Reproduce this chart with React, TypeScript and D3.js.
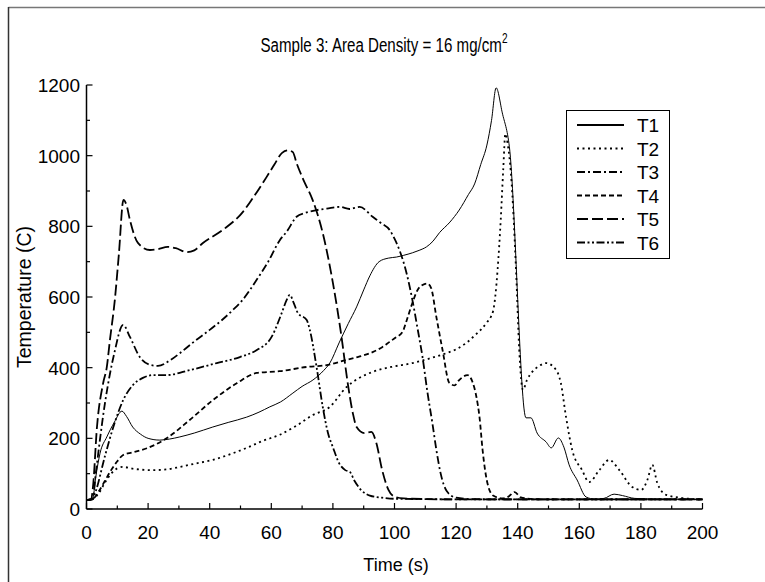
import React, { useEffect, useRef } from "react";
import * as d3 from "d3";

// time (s) / temperature (C)
const t1Time = [0, 2, 3, 4.4, 6.6, 9, 11.5, 13, 15, 17.5, 20, 23.8, 27, 30.3, 35, 41, 46, 52, 56, 59.5, 63, 67, 70, 73.5, 77, 79, 82, 85, 87.7, 90, 92, 95, 98, 100.6, 103, 105.8, 108, 110.4, 112.5, 114.6, 118, 121, 124, 126, 128, 130, 131.5, 133, 135, 137.3, 142.7, 144.3, 146.3, 149.2, 150.9, 153.2, 155, 156.7, 159.3, 162.2, 165, 168, 171.3, 174, 178, 185, 200];
const t1Temp = [25, 28, 90, 158, 204, 245, 277, 262, 232, 212, 200, 195, 198, 204, 215, 232, 245, 260, 274, 289, 303, 328, 347, 365, 392, 413, 470, 525, 572, 620, 660, 700, 710, 713, 718, 725, 732, 742, 758, 782, 812, 846, 890, 920, 975, 1030, 1100, 1192, 1121, 1025, 258, 258, 215, 190, 173, 201, 175, 125, 82, 34, 28, 30, 42, 38, 30, 28, 27];

const t2Time = [0, 2, 4, 6, 8, 10, 11.9, 15, 21.6, 26, 30.3, 35, 41, 46, 52, 57, 62.7, 68, 73.5, 79, 84.4, 88, 92.9, 99, 105.8, 111, 116.8, 120, 123.3, 126.5, 129.8, 132, 133.5, 134.5, 135.3, 136, 136.8, 137.8, 139.5, 140.5, 141.7, 143, 144.7, 147, 149.2, 152.5, 154, 155.7, 157.7, 160.9, 163.2, 166.5, 169.7, 173, 177.2, 180.1, 182.1, 183.7, 185.3, 188.2, 193.4, 200];
const t2Temp = [25, 28, 45, 75, 100, 115, 119, 114, 110, 112, 119, 128, 139, 153, 173, 192, 210, 235, 266, 289, 345, 368, 388, 402, 413, 425, 441, 452, 470, 495, 526, 560, 680, 820, 960, 1062, 1030, 950, 668, 450, 337, 365, 388, 405, 413, 393, 357, 260, 167, 110, 76, 110, 139, 110, 62, 54, 82, 125, 74, 40, 31, 27];

const t3Time = [0, 2, 3, 6, 9, 11.9, 14.1, 17.3, 20.6, 23.2, 27, 30.3, 35, 40, 44, 47.5, 50.7, 55.2, 59, 62.7, 65, 68.2, 71, 74.7, 78, 82.2, 85.4, 88.7, 92.9, 95.5, 98.4, 100, 101.6, 103.9, 105.8, 107.5, 109.1, 110.7, 112.3, 113.6, 115, 117, 120, 125, 140, 160, 180, 200];
const t3Temp = [25, 28, 100, 300, 440, 521, 487, 430, 408, 405, 420, 441, 474, 507, 535, 563, 592, 648, 700, 760, 785, 827, 838, 846, 850, 855, 849, 855, 827, 810, 790, 765, 733, 668, 592, 510, 430, 330, 243, 167, 100, 50, 32, 28, 27, 27, 27, 27];

const t4Time = [0, 2, 4, 6, 8, 10, 11.9, 15, 19.6, 26, 33.5, 41, 48.8, 55.3, 62.7, 71.5, 78.4, 84.4, 88, 92.9, 96, 98.4, 100.5, 102.6, 104, 105.8, 107.5, 109.1, 110.6, 111.9, 113.6, 115.6, 117.8, 119.5, 121, 123.7, 125.3, 126.6, 127.6, 128.6, 130, 132, 135, 137, 139, 141, 145, 150, 160, 180, 200];
const t4Temp = [25, 28, 50, 80, 110, 135, 153, 160, 172, 200, 252, 308, 356, 385, 390, 402, 408, 422, 430, 444, 458, 473, 486, 501, 535, 583, 620, 634, 638, 625, 543, 450, 357, 350, 365, 379, 360, 317, 260, 167, 80, 38, 30, 35, 48, 33, 28, 27, 27, 27, 27];

const t5Time = [0, 1.5, 2.1, 3.4, 5.4, 6.6, 7.6, 9.2, 10.5, 12, 13, 14.1, 16.7, 20.6, 23, 26.4, 29, 32.5, 35, 37.8, 44.3, 50.8, 54, 58.5, 61, 63.5, 65.5, 67, 68.2, 70.5, 73.4, 76.7, 80, 82.8, 84.8, 86.5, 87.7, 90.2, 92.5, 94.1, 96, 98, 100, 103, 110, 120, 140, 160, 180, 200];
const t5Temp = [25, 28, 62, 232, 356, 402, 478, 592, 720, 875, 860, 818, 753, 733, 735, 742, 738, 727, 732, 753, 790, 841, 880, 940, 975, 1008, 1015, 1010, 979, 930, 875, 781, 640, 487, 357, 270, 232, 215, 218, 187, 110, 55, 35, 30, 28, 27, 27, 27, 27, 27];

const t6Time = [0, 2, 3, 6, 9, 11.9, 15.1, 18.3, 21.6, 26, 33.5, 42.3, 49.8, 55.3, 60.1, 63.4, 65, 66, 67.2, 68.6, 71.5, 72.5, 74.7, 76.7, 78.4, 80, 82, 84, 85.5, 87, 89, 92, 96, 100, 110, 130, 160, 200];
const t6Temp = [25, 28, 50, 150, 240, 308, 351, 371, 379, 379, 393, 413, 430, 450, 487, 555, 592, 606, 585, 555, 535, 507, 402, 289, 215, 175, 130, 110, 105, 80, 55, 38, 32, 29, 28, 27, 27, 27];

const seriesNames = ["T1", "T2", "T3", "T4", "T5", "T6"];
const seriesTimes = [t1Time, t2Time, t3Time, t4Time, t5Time, t6Time];
const seriesTemps = [t1Temp, t2Temp, t3Temp, t4Temp, t5Temp, t6Temp];

const xTicks = [0, 20, 40, 60, 80, 100, 120, 140, 160, 180, 200];
const yTicks = [0, 200, 400, 600, 800, 1000, 1200];

const dashes = ["none", "2,3.5", "8,3,2,3", "5,3", "11,4", "8,2.5,2,2.5,2,2.5"];
const widths = [1, 1.8, 1.8, 1.8, 1.8, 1.8];

const FONT = "'Liberation Sans', Arial, sans-serif";

export default function App() {
  const svgRef = useRef<SVGSVGElement | null>(null);

  useEffect(() => {
    if (!svgRef.current) return;
    const width = 765;
    const height = 582;
    const svg = d3.select(svgRef.current);
    svg.selectAll("*").remove();

    svg.append("rect").attr("width", width).attr("height", height).attr("fill", "#fff");

    // outer frame: only the top and left edges show
    svg.append("line")
      .attr("x1", 8.5).attr("x2", width)
      .attr("y1", 7.5).attr("y2", 7.5)
      .attr("stroke", "#777").attr("stroke-width", 1.5);
    svg.append("line")
      .attr("x1", 8.5).attr("x2", 8.5)
      .attr("y1", 7).attr("y2", height)
      .attr("stroke", "#333").attr("stroke-width", 1.5);

    const x = d3.scaleLinear().domain([0, 200]).range([86.5, 702.5]);
    const y = d3.scaleLinear().domain([0, 1200]).range([509, 85]);

    const g = svg.append("g");

    // axes lines
    g.append("line")
      .attr("x1", x(0)).attr("x2", x(200))
      .attr("y1", y(0)).attr("y2", y(0))
      .attr("stroke", "#000").attr("stroke-width", 1.5);
    g.append("line")
      .attr("x1", x(0)).attr("x2", x(0))
      .attr("y1", y(0)).attr("y2", y(1200))
      .attr("stroke", "#000").attr("stroke-width", 1.5);

    // ticks point inward
    d3.range(0, 201, 10).forEach((v) => {
      const major = v % 20 === 0;
      g.append("line")
        .attr("x1", x(v)).attr("x2", x(v))
        .attr("y1", y(0)).attr("y2", y(0) - (major ? 6 : 3.5))
        .attr("stroke", "#000").attr("stroke-width", 1.2);
    });
    d3.range(0, 1201, 100).forEach((v) => {
      const major = v % 200 === 0;
      g.append("line")
        .attr("x1", x(0)).attr("x2", x(0) + (major ? 6 : 3.5))
        .attr("y1", y(v)).attr("y2", y(v))
        .attr("stroke", "#000").attr("stroke-width", 1.2);
    });

    g.selectAll(".xt")
      .data(xTicks)
      .join("text")
      .attr("x", (d) => x(d))
      .attr("y", 539)
      .attr("text-anchor", "middle")
      .attr("font-family", FONT)
      .attr("font-size", 19)
      .text((d) => d);

    g.selectAll(".yt")
      .data(yTicks)
      .join("text")
      .attr("x", 80)
      .attr("y", (d) => y(d) + 7)
      .attr("text-anchor", "end")
      .attr("font-family", FONT)
      .attr("font-size", 19)
      .text((d) => d);

    // axis titles
    svg.append("text")
      .attr("x", 396)
      .attr("y", 571)
      .attr("text-anchor", "middle")
      .attr("font-family", FONT)
      .attr("font-size", 18)
      .text("Time (s)");
    svg.append("text")
      .attr("transform", `translate(31,${(y(0) + y(1200)) / 2}) rotate(-90)`)
      .attr("text-anchor", "middle")
      .attr("font-family", FONT)
      .attr("font-size", 19.5)
      .text("Temperature (C)");

    // title (condensed face in the original)
    const title = svg.append("text")
      .attr("transform", "translate(384,52) scale(0.72,1)")
      .attr("text-anchor", "middle")
      .attr("font-family", FONT)
      .attr("font-size", 21);
    title.append("tspan").text("Sample 3: Area Density = 16 mg/cm");
    title.append("tspan").attr("dy", -9).attr("font-size", 14).text("2");

    // curves
    const line = d3
      .line<[number, number]>()
      .x((d) => x(d[0]))
      .y((d) => y(d[1]))
      .curve(d3.curveMonotoneX);

    seriesNames.forEach((name, i) => {
      const pts = seriesTimes[i].map((t, j) => [t, seriesTemps[i][j]] as [number, number]);
      svg.append("path")
        .datum(pts)
        .attr("fill", "none")
        .attr("stroke", "#000")
        .attr("stroke-width", widths[i])
        .attr("stroke-dasharray", dashes[i])
        .attr("d", line);
    });

    // legend
    const lg = svg.append("g");
    lg.append("rect")
      .attr("x", 566.5).attr("y", 110.5)
      .attr("width", 103).attr("height", 148)
      .attr("fill", "#fff").attr("stroke", "#000").attr("stroke-width", 1);
    seriesNames.forEach((name, i) => {
      const ry = 125 + i * 23.5;
      lg.append("line")
        .attr("x1", 577).attr("x2", 624)
        .attr("y1", ry).attr("y2", ry)
        .attr("stroke", "#000")
        .attr("stroke-width", 2)
        .attr("stroke-dasharray", dashes[i]);
      lg.append("text")
        .attr("x", 637)
        .attr("y", ry + 7)
        .attr("font-family", FONT)
        .attr("font-size", 19)
        .text(name);
    });
  }, []);

  return (
    <svg
      ref={svgRef}
      width={765}
      height={582}
      style={{ position: "absolute", left: 0, top: 0 }}
    />
  );
}
